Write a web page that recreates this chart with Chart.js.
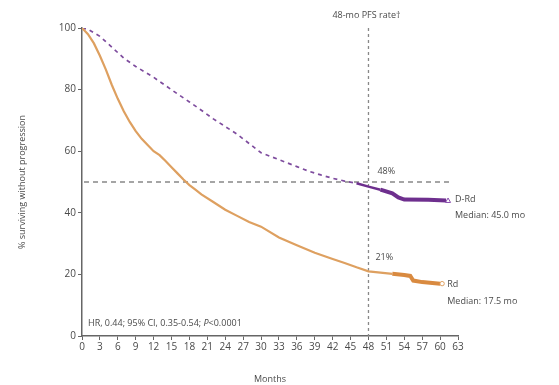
<!DOCTYPE html>
<html>
<head>
<meta charset="utf-8">
<script src="https://cdn.jsdelivr.net/npm/chart.js@4.4.1/dist/chart.umd.min.js"></script>
<style>
html,body{margin:0;padding:0;background:#fff;}
#wrap{position:relative;width:559px;height:385px;}
</style>
</head>
<body>
<div id="wrap"><canvas id="c" width="559" height="385"></canvas></div>
<script>
// ---- Data ----
const xTicks = [0,3,6,9,12,15,18,21,24,27,30,33,36,39,42,45,48,51,54,57,60,63];
const yTicks = [0,20,40,60,80,100];

const rdMonths = [0,1,2,3,4,5,6,7,8,9,10,11,12,13,14,15,16,17,18,19,20,22,24,26,28,30,33,36,39,42,44,46,48,50,52,54,55,55.5,57,60];
const rdValues = [100,98,95,91,86.5,81.5,77,73,69.5,66.5,64,62,60,58.7,56.8,54.8,52.8,50.8,49,47.5,46,43.5,41,39,37,35.5,32,29.5,27,25,23.7,22.3,21,20.6,20.2,19.8,19.5,18,17.5,17];

const drdMonths = [0,1,3,5,7,9,12,14,16,18,20,22,24,26,28,30,32,34,36,38,40,42,44,46,48,50,52,53,54,58,61];
const drdValues = [100,99.6,97.3,93.8,90.2,87.5,84,81.3,78.6,76,73.3,70.5,68,65.5,62.5,59.5,58,56.5,55,53.5,52.3,51.2,50.3,49.6,48.5,47.5,46.3,45,44.3,44.2,44];

const refRate = 50;      // horizontal reference line (%)
const refMonth = 48;     // 48-month landmark
const rdAt48 = "21%";
const drdAt48 = "48%";

function toXY(xs, ys){ return xs.map((x,i)=>({x:x, y:ys[i]})); }

const FONT = "'Open Sans', 'Noto Sans', sans-serif";
const GREY = '#4a4a4a';

const annot = {
  id: 'annot',
  beforeDatasetsDraw(chart){
    const {ctx, scales:{x,y}} = chart;
    ctx.save();
    ctx.strokeStyle = '#888';
    ctx.lineWidth = 1.5;
    ctx.setLineDash([5,4]);
    ctx.beginPath();
    ctx.moveTo(x.getPixelForValue(0)+2, y.getPixelForValue(refRate));
    ctx.lineTo(x.getPixelForValue(62), y.getPixelForValue(refRate));
    ctx.stroke();
    ctx.setLineDash([3,3]);
    ctx.lineWidth = 1.3;
    ctx.beginPath();
    ctx.moveTo(x.getPixelForValue(refMonth), y.getPixelForValue(100));
    ctx.lineTo(x.getPixelForValue(refMonth), y.getPixelForValue(0));
    ctx.stroke();
    ctx.restore();
  },
  afterDatasetsDraw(chart){
    const {ctx, scales:{x,y}} = chart;
    ctx.save();
    ctx.fillStyle = GREY;
    ctx.font = '9px ' + FONT;
    ctx.textBaseline = 'middle';
    ctx.textAlign = 'center';
    ctx.fillText('48-mo PFS rate\u2020', x.getPixelForValue(refMonth)-2, 15);
    ctx.textAlign = 'left';
    ctx.fillText(drdAt48, x.getPixelForValue(refMonth)+9, y.getPixelForValue(53.5));
    ctx.fillText(rdAt48, x.getPixelForValue(refMonth)+7, y.getPixelForValue(25.5));
    ctx.fillText('D-Rd', x.getPixelForValue(62.5), y.getPixelForValue(44.2));
    ctx.fillText('Median: 45.0 mo', x.getPixelForValue(62.5), y.getPixelForValue(39));
    ctx.fillText('Rd', x.getPixelForValue(61.2), y.getPixelForValue(16.8));
    ctx.fillText('Median: 17.5 mo', x.getPixelForValue(61.2), y.getPixelForValue(11.3));
    const hx = x.getPixelForValue(0)+6, hy = y.getPixelForValue(4.2);
    const t1 = 'HR, 0.44; 95% CI, 0.35-0.54; ';
    ctx.fillText(t1, hx, hy);
    const w = ctx.measureText(t1).width;
    ctx.font = 'italic 9px ' + FONT;
    ctx.fillText('P', hx+w, hy);
    const w2 = ctx.measureText('P').width;
    ctx.font = '9px ' + FONT;
    ctx.fillText('<0.0001', hx+w+w2, hy);
    // end markers
    ctx.strokeStyle = '#e0a060';
    ctx.lineWidth = 1;
    ctx.beginPath();
    ctx.arc(x.getPixelForValue(60)+2, y.getPixelForValue(17), 2.2, 0, Math.PI*2);
    ctx.stroke();
    ctx.strokeStyle = '#8a4fae';
    const tx = x.getPixelForValue(61)+2, ty = y.getPixelForValue(44);
    ctx.beginPath();
    ctx.moveTo(tx-2.5, ty+2); ctx.lineTo(tx+2.5, ty+2); ctx.lineTo(tx, ty-2.5); ctx.closePath();
    ctx.stroke();
    ctx.restore();
  }
};

new Chart(document.getElementById('c'), {
  type: 'line',
  data: {
    datasets: [
      {
        label: 'Rd',
        data: toXY(rdMonths, rdValues),
        borderColor: '#e3a766',
        borderWidth: 2.2,
        pointRadius: 0,
        tension: 0,
        segment: {
          borderColor: c => c.p0.parsed.x >= 52 ? '#d98a40' : '#dea060',
          borderWidth: c => c.p0.parsed.x >= 52 ? 4 : 2.2
        }
      },
      {
        label: 'D-Rd',
        data: toXY(drdMonths, drdValues),
        borderColor: '#7e4c9e',
        borderWidth: 1.7,
        pointRadius: 0,
        tension: 0,
        borderDash: [4,4],
        segment: {
          borderDash: c => c.p0.parsed.x >= 46 ? [] : [4,4],
          borderColor: c => c.p0.parsed.x >= 46 ? '#6e2f8e' : '#7e4c9e',
          borderWidth: c => c.p0.parsed.x >= 50 ? 4 : (c.p0.parsed.x >= 46 ? 2.5 : 1.7)
        }
      }
    ]
  },
  options: {
    responsive: false,
    animation: false,
    layout: { padding: { left: 0, top: 28, right: 101, bottom: 0 } },
    plugins: { legend: { display: false }, tooltip: { enabled: false } },
    scales: {
      x: {
        type: 'linear', min: 0, max: 63,
        afterBuildTicks: s => { s.ticks = xTicks.map(v => ({value: v})); },
        afterFit: s => { s.height = 49; },
        grid: { display: true, drawOnChartArea: false, drawTicks: true, tickLength: 4, color: '#666', tickWidth: 1 },
        border: { display: true, color: '#666', width: 1.5 },
        ticks: { color: GREY, font: { family: FONT, size: 10 }, padding: 1, maxRotation: 0, autoSkip: false },
        title: { display: true, text: 'Months', color: GREY, font: { family: FONT, size: 9 }, padding: { top: 0, bottom: 0 } }
      },
      y: {
        type: 'linear', min: 0, max: 100,
        afterBuildTicks: s => { s.ticks = yTicks.map(v => ({value: v})); },
        afterFit: s => { s.width = 82; },
        grid: { display: true, drawOnChartArea: false, drawTicks: true, tickLength: 4, color: '#666' },
        border: { display: true, color: '#666', width: 1.5 },
        ticks: { color: GREY, font: { family: FONT, size: 10 }, padding: 2 },
        title: { display: true, text: '% surviving without progression', color: GREY, font: { family: FONT, size: 9 }, padding: { top: 17, bottom: 0 } }
      }
    }
  },
  plugins: [annot]
});
</script>
</body>
</html>
